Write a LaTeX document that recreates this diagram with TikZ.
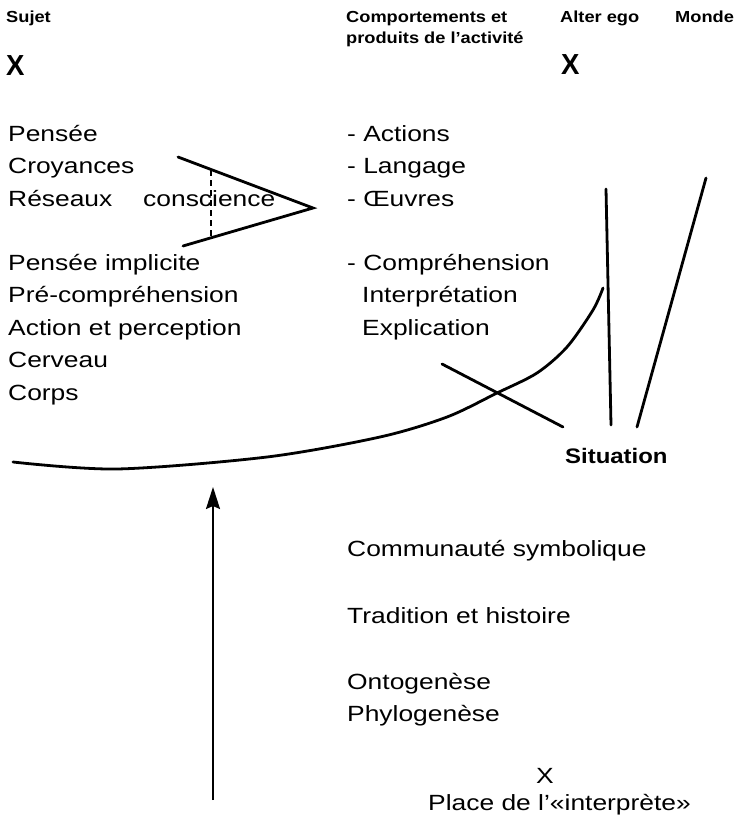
\documentclass[tikz,border=0pt]{standalone}
\usepackage{fontspec}
\setmainfont{Liberation Sans}[FakeStretch=1.2]
\newfontfamily\headf{Liberation Sans}[FakeStretch=1.14]
\newfontfamily\xfont{Liberation Sans}[FakeStretch=0.95]
\usetikzlibrary{arrows.meta}
\begin{document}
\begin{tikzpicture}[x=1pt,y=-1pt,
  txt/.style={anchor=base west, inner sep=0pt, font=\fontsize{22}{22}\selectfont},
  head/.style={anchor=base west, inner sep=0pt, font=\headf\bfseries\fontsize{16}{16}\selectfont},
  bigx/.style={anchor=base west, inner sep=0pt, font=\xfont\bfseries\fontsize{29}{29}\selectfont},
  sit/.style={anchor=base west, inner sep=0pt, font=\headf\bfseries\fontsize{21}{21}\selectfont},
  ln/.style={line width=2.8pt, line cap=round, line join=miter}]
\useasboundingbox (0,0) rectangle (743,827);
% headers
\node[head] (sujet) at (6,23) {Sujet};
\node[head] (comp1) at (346,23) {Comportements et};
\node[head] (comp2) at (346,43) {produits de l’activité};
\node[head] (alter) at (560,23) {Alter ego};
\node[head] (monde) at (675,23) {Monde};
\node[bigx] (xs) at (6,75) {X};
\node[bigx] (xa) at (561,74) {X};
% left column
\node[txt] (pensee) at (8,141) {Pensée};
\node[txt] (croy) at (8,173.5) {Croyances};
\node[txt] (reseaux) at (8,206) {Réseaux};
\node[txt] (consc) at (143,206) {conscience};
\node[txt] (pimpl) at (8,270) {Pensée implicite};
\node[txt] (precomp) at (8,302.5) {Pré-compréhension};
\node[txt] (actper) at (8,335) {Action et perception};
\node[txt] (cerveau) at (8,367.5) {Cerveau};
\node[txt] (corps) at (8,400) {Corps};
% middle column
\node[txt] (actions) at (347,141) {- Actions};
\node[txt] (langage) at (347,173.5) {- Langage};
\node[txt] (oeuvres) at (347,206) {- Œuvres};
\node[txt] (compr) at (347,270) {- Compréhension};
\node[txt] (interp) at (362,302.5) {Interprétation};
\node[txt] (expl) at (362,335) {Explication};
% lower
\node[sit] (situation) at (565,463) {Situation};
\node[txt] (commu) at (347,556) {Communauté symbolique};
\node[txt] (trad) at (347,623) {Tradition et histoire};
\node[txt] (onto) at (347,689) {Ontogenèse};
\node[txt] (phylo) at (347,721) {Phylogenèse};
\node[txt] (xi) at (536,783) {X};
\node[txt] (place) at (428,810) {Place de l’«interprète»};
% conscience wedge
\draw[ln] (178,157) -- (313,208) -- (183,246);
\draw[line width=2pt, dash pattern=on 6pt off 4pt] (211,170) -- (211,239);
% curve
\draw[ln] plot[smooth, tension=0.5] coordinates {(13,462) (117,469) (267,457) (380,437) (447,417) (497,393) (537,373) (567,347) (593,310) (603,288)};
% lines
\draw[ln] (442,364) -- (563,427);
\draw[ln] (606,189) -- (611,425);
\draw[ln] (706,178) -- (637,427);
% arrow
\coordinate (abot) at (213,800);
\coordinate (atop) at (213,487);
\draw[line width=2pt, -{Stealth[length=22pt, width=14pt, inset=3pt]}] (abot) -- (atop);
\end{tikzpicture}
\end{document}
